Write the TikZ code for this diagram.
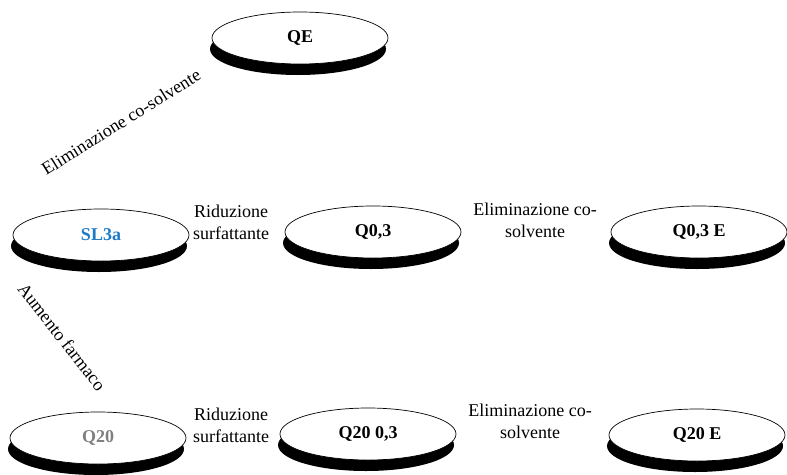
\documentclass[tikz,border=0pt]{standalone}
\usepackage{fontspec}
\setmainfont{Liberation Serif}
\usetikzlibrary{shapes.geometric,shadows}
\definecolor{labelblue}{HTML}{1F7BC8}
\definecolor{labelgray}{HTML}{7F7F7F}
\begin{document}
\begin{tikzpicture}[x=1pt,y=-1pt,
  state/.style={ellipse, draw=black, line width=0.7pt, fill=white,
    minimum width=176pt, minimum height=52pt, inner sep=0pt,
    font=\fontsize{18}{20}\selectfont\bfseries,
    general shadow={fill=black, shadow xshift=-2pt, shadow yshift=-11pt}},
  steplabel/.style={font=\fontsize{18}{22}\selectfont, align=center, inner sep=0pt}]
\useasboundingbox (0,0) rectangle (787,474);

% formulations (text sits a little low in each ellipse)
\newcommand{\lowtext}[1]{\raisebox{-5pt}{#1}}
\node[state] (QE)    at (300,38)  {\lowtext{QE}};
\node[state] (SL3a)  at (101,235) {\lowtext{\textcolor{labelblue}{SL3a}}};
\node[state] (Q03)   at (373,232) {\lowtext{Q0,3}};
\node[state] (Q03E)  at (699,232) {\lowtext{Q0,3 E}};
\node[state] (Q20)   at (98,438)  {\lowtext{\textcolor{labelgray}{Q20}}};
\node[state] (Q2003) at (368,434) {\lowtext{Q20 0,3}};
\node[state] (Q20E)  at (697,435) {\lowtext{Q20 E}};

% process steps
\node[steplabel] (rid1) at (231,222) {Riduzione\\surfattante};
\node[steplabel] (rid2) at (231,425) {Riduzione\\surfattante};
\node[steplabel] (eli1) at (535,220) {Eliminazione co-\\solvente};
\node[steplabel] (eli2) at (530,421) {Eliminazione co-\\solvente};
\node[steplabel, rotate=32]  (eli0) at (121,122) {Eliminazione co-solvente};
\node[steplabel, rotate=-52] (aum)  at (62,337)  {Aumento farmaco};
\end{tikzpicture}
\end{document}
